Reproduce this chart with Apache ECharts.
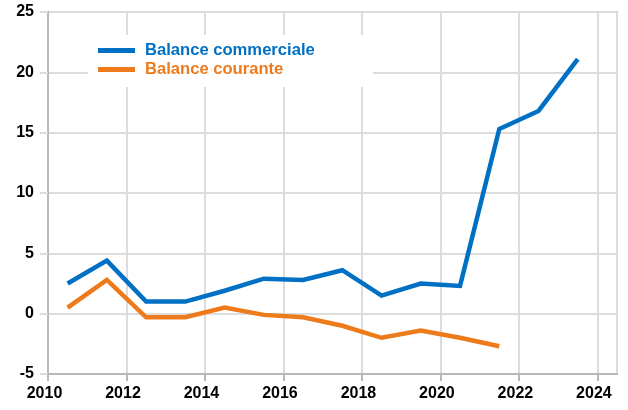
<!DOCTYPE html>
<html>
<head>
<meta charset="utf-8">
<script src="https://cdn.jsdelivr.net/npm/echarts@6/dist/echarts.min.js"></script>
<style>html,body{margin:0;padding:0;background:#fff;}#c{width:628px;height:410px;}</style>
</head>
<body>
<div id="c"></div>
<script>
var years = [2010.5, 2011.5, 2012.5, 2013.5, 2014.5, 2015.5, 2016.5, 2017.5, 2018.5, 2019.5, 2020.5, 2021.5, 2022.5, 2023.5];
var balanceCommerciale = [2.5, 4.4, 1.0, 1.0, 1.9, 2.9, 2.8, 3.6, 1.5, 2.5, 2.3, 15.3, 16.8, 21.1];
var balanceCourante = [0.5, 2.8, -0.3, -0.3, 0.5, -0.1, -0.3, -1.0, -2.0, -1.4, -2.0, -2.7];
var seriesNames = ['Balance commerciale', 'Balance courante'];
var seriesColors = ['#0070C4', '#EE7B1B'];

function pairs(xs, ys) { return ys.map(function (v, i) { return [xs[i], v]; }); }

var FONT = '"Liberation Sans", Arial, sans-serif';
var chart = echarts.init(document.getElementById('c'), null, {renderer: 'canvas'});
chart.setOption({
  animation: false,
  backgroundColor: '#fff',
  grid: {left: 48, top: 12, right: 11, bottom: 36, show: true, borderColor: '#c4c4c4', borderWidth: 2, backgroundColor: 'transparent'},
  legend: {
    orient: 'vertical', left: 88, top: 35,
    padding: [6, 58, 8, 10],
    backgroundColor: '#fff',
    itemWidth: 37, itemHeight: 5, itemGap: 0,
    icon: 'rect',
    textStyle: {fontFamily: FONT, fontWeight: 'bold', fontSize: 16.6, lineHeight: 19, padding: [0, 0, 0, 5]},
    data: [
      {name: seriesNames[0], textStyle: {color: seriesColors[0]}},
      {name: seriesNames[1], textStyle: {color: seriesColors[1]}}
    ]
  },
  xAxis: {
    type: 'value', min: 2010, max: 2024.5, interval: 2,
    axisLine: {show: true, onZero: false, lineStyle: {color: '#b8b8b8', width: 2}},
    axisTick: {show: true, length: 7, lineStyle: {color: '#b8b8b8', width: 2}},
    splitLine: {show: true, lineStyle: {color: '#dcdcdc', width: 2}},
    axisLabel: {margin: 12, color: '#000', fontFamily: FONT, fontWeight: 'bold', fontSize: 16, padding: [0, 7, 0, 0],
      showMaxLabel: false,
      formatter: function (v) { return (v % 1 === 0) ? String(v) : ''; }}
  },
  yAxis: {
    type: 'value', min: -5, max: 25, interval: 5,
    axisLine: {show: true, lineStyle: {color: '#b8b8b8', width: 2}},
    axisTick: {show: true, length: 8, lineStyle: {color: '#dcdcdc', width: 2}},
    splitLine: {show: true, lineStyle: {color: '#dcdcdc', width: 2}},
    axisLabel: {margin: 14, color: '#000', fontFamily: FONT, fontWeight: 'bold', fontSize: 16}
  },
  series: [
    {name: seriesNames[0], type: 'line', data: pairs(years, balanceCommerciale), showSymbol: false, symbol: 'none',
      lineStyle: {color: seriesColors[0], width: 4.5, join: 'miter'}, itemStyle: {color: seriesColors[0]}, z: 3},
    {name: seriesNames[1], type: 'line', data: pairs(years, balanceCourante), showSymbol: false, symbol: 'none',
      lineStyle: {color: seriesColors[1], width: 4.5, join: 'miter'}, itemStyle: {color: seriesColors[1]}, z: 2}
  ]
});
</script>
</body>
</html>
